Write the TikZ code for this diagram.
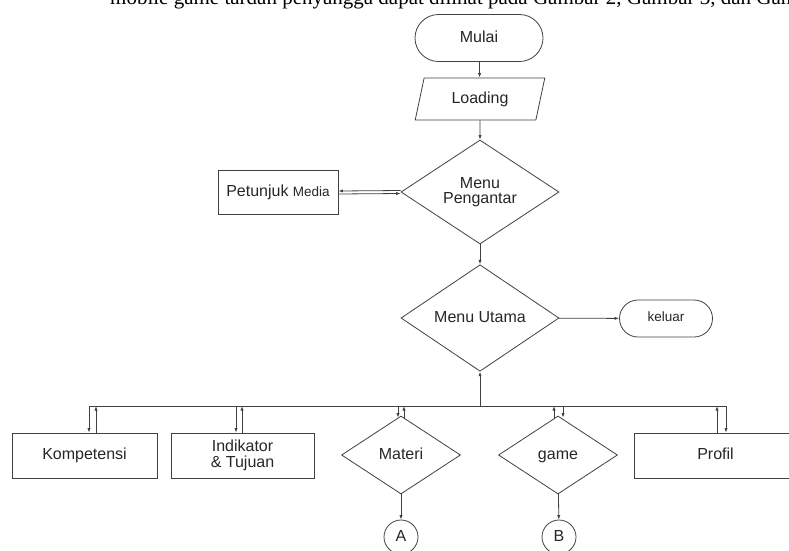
\documentclass[tikz,border=0pt]{standalone}
\usepackage{fontspec}
\setmainfont{Liberation Sans}
\newfontfamily\capfont{Liberation Serif}
\usetikzlibrary{shapes.geometric,shapes.misc,arrows.meta}

\tikzset{
  base/.style={draw=black!75, line width=0.8pt, text=black!85, inner sep=0pt,
    font=\fontsize{16}{15.5}\selectfont, align=center},
  oneline/.style={text height=11.5pt, text depth=3.4pt},
  terminal/.style={base, rounded rectangle},
  io/.style={base, trapezium, trapezium left angle=73, trapezium right angle=107,
    trapezium stretches=true},
  decision/.style={base, diamond},
  process/.style={base, rectangle},
  connector/.style={base, circle, minimum size=34pt},
  flow/.style={draw=black!75, line width=0.8pt, -{Latex[length=4.5pt,width=3.2pt]}},
  plain/.style={draw=black!75, line width=0.8pt},
}

\begin{document}
\begin{tikzpicture}[x=1pt, y=-1pt]
\useasboundingbox (0,0) rectangle (789,550);
\clip (0,0) rectangle (789,550);

% running text of the page, cut by the frame
\node[anchor=base west, inner sep=0pt, font=\capfont\fontsize{21}{24}\selectfont]
  (caption) at (110,4) {mobile game tardan penyangga dapat dilihat pada Gambar 2, Gambar 3, dan Gambar 4};

% main column
\node[terminal, oneline, minimum width=128pt, minimum height=47pt] (mulai) at (479,38) {Mulai};
\node[io, oneline, minimum width=130pt, minimum height=42pt] (loading) at (480,99) {Loading};
\node[decision, minimum width=158pt, minimum height=104pt] (pengantar) at (480,192) {Menu\\Pengantar};
\node[process, oneline, minimum width=120pt, minimum height=44pt] (petunjuk) at (278,192.5)
  {Petunjuk {\fontsize{13.5}{15}\selectfont Media}};
\node[decision, oneline, minimum width=158pt, minimum height=102pt] (utama) at (480,318) {Menu Utama};
\node[terminal, minimum width=93pt, minimum height=37pt, font=\fontsize{13.5}{15}\selectfont,
  text height=9.7pt, text depth=2.9pt] (keluar) at (666,318.5) {keluar};

% sub menus
\node[process, oneline, minimum width=145pt, minimum height=45pt] (kompetensi) at (84.5,455.5) {Kompetensi};
\node[process, minimum width=143pt, minimum height=45pt] (indikator) at (242.5,455.5) {Indikator\\\& Tujuan};
\node[decision, oneline, minimum width=119pt, minimum height=78pt] (materi) at (401,455) {Materi};
\node[decision, oneline, minimum width=119pt, minimum height=78pt] (game) at (558,455) {game};
\node[process, oneline, minimum width=163pt, minimum height=45pt] (profil) at (715.5,455.5) {Profil};
\node[connector, oneline] (A) at (401,537) {A};
\node[connector, oneline] (B) at (559,537) {B};

% main flow
\draw[flow] (mulai) -- (loading);
\draw[flow] (loading) -- (pengantar);
\draw[flow] ([yshift=1.5pt]pengantar.west) -- ([yshift=1.5pt]petunjuk.east);
\draw[flow] ([yshift=-1.5pt]petunjuk.east) -- ([yshift=-1.5pt]pengantar.west);
\draw[flow] (pengantar) -- (utama);
\draw[flow] (utama) -- (keluar);

% distribution bus under the main menu
\coordinate (bus) at (480,406);
\coordinate (kd) at (89,406);   \coordinate (ku) at (96,406);
\coordinate (id) at (236,406);  \coordinate (iu) at (242,406);
\coordinate (md) at (398,406);  \coordinate (mu) at (404,406);
\coordinate (gu) at (554,406);  \coordinate (gd) at (563,406);
\coordinate (pu) at (717,406);  \coordinate (pd) at (726,406);
\draw[plain] (kd) -- (pd);
\draw[flow] (bus) -- (utama.south);

\draw[flow] (kd) -- (kd |- kompetensi.north);
\draw[flow] (ku |- kompetensi.north) -- (ku);
\draw[flow] (id) -- (id |- indikator.north);
\draw[flow] (iu |- indikator.north) -- (iu);
\draw[flow] (md) -- ([yshift=-2pt]md |- materi.north);
\draw[flow] ([yshift=-2pt]mu |- materi.north) -- (mu);
\draw[flow] ([yshift=-2pt]gu |- game.north) -- (gu);
\draw[flow] (gd) -- ([yshift=-2pt]gd |- game.north);
\draw[flow] (pu |- profil.north) -- (pu);
\draw[flow] (pd) -- (pd |- profil.north);

% off-page connectors
\draw[flow] (materi) -- (A);
\draw[flow] (game) -- (B);
\end{tikzpicture}
\end{document}
